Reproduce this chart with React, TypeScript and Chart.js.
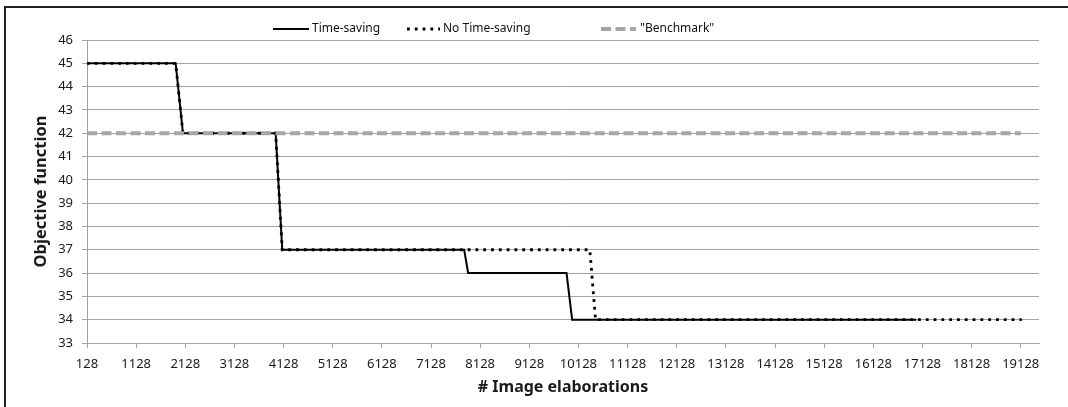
import { useEffect, useRef } from "react";
import { Chart, registerables } from "chart.js";

Chart.register(...registerables);

// ---- data ----
const xTickValues = [
  128, 1128, 2128, 3128, 4128, 5128, 6128, 7128, 8128, 9128, 10128, 11128,
  12128, 13128, 14128, 15128, 16128, 17128, 18128, 19128,
];
const yTickMin = 33;
const yTickMax = 46;
const xAxisMax = 19500;

const timeSavingX = [128, 1932, 2081, 3967, 4101, 7803, 7884, 9886, 10000, 17005];
const timeSavingY = [45, 45, 42, 42, 37, 37, 36, 36, 34, 34];

const noTimeSavingX = [128, 1932, 2081, 3967, 4101, 10360, 10476, 19150];
const noTimeSavingY = [45, 45, 42, 42, 37, 37, 34, 34];

const benchmarkX = [128, 19128];
const benchmarkY = [42, 42];

const seriesLabels = ["Time-saving", "No Time-saving", '"Benchmark"'];
const xTitle = "# Image elaborations";
const yTitle = "Objective function";

const FONT = "'Noto Sans', 'DejaVu Sans', sans-serif";
const GRID = "#a3a3a3";

// legend layout (page pixels)
const legendY = 29;
const legendItems = [
  { lineX0: 273, lineX1: 309, textX: 312 },
  { lineX0: 407, lineX1: 440, textX: 443 },
  { lineX0: 601, lineX1: 636, textX: 640 },
];

const toPoints = (xs: number[], ys: number[]) => xs.map((x, i) => ({ x, y: ys[i] }));

const legendPlugin = {
  id: "customLegend",
  afterDraw(chart: any) {
    const ctx = chart.ctx as CanvasRenderingContext2D;
    [0, 1, 2].forEach((di, i) => {
      const ds = chart.data.datasets[di];
      const it = legendItems[i];
      ctx.save();
      ctx.strokeStyle = ds.borderColor;
      ctx.lineWidth = ds.borderWidth;
      ctx.setLineDash(ds.borderDash || []);
      ctx.beginPath();
      ctx.moveTo(it.lineX0, legendY);
      ctx.lineTo(it.lineX1, legendY);
      ctx.stroke();
      ctx.setLineDash([]);
      ctx.fillStyle = "#111";
      ctx.font = `12px ${FONT}`;
      ctx.textBaseline = "middle";
      ctx.textAlign = "left";
      ctx.fillText(ds.label, it.textX, legendY);
      ctx.restore();
    });
  },
};

export default function App() {
  const ref = useRef<HTMLCanvasElement | null>(null);

  useEffect(() => {
    if (!ref.current) return;
    const chart = new Chart(ref.current, {
      type: "line",
      data: {
        datasets: [
          {
            label: seriesLabels[0],
            data: toPoints(timeSavingX, timeSavingY),
            borderColor: "#000",
            borderWidth: 2,
            pointRadius: 0,
            tension: 0,
            order: 3,
          },
          {
            label: seriesLabels[1],
            data: toPoints(noTimeSavingX, noTimeSavingY),
            borderColor: "#000",
            borderWidth: 2.8,
            borderDash: [2.8, 5],
            pointRadius: 0,
            tension: 0,
            order: 2,
          },
          {
            label: seriesLabels[2],
            data: toPoints(benchmarkX, benchmarkY),
            borderColor: "#a6a6a6",
            borderWidth: 4,
            borderDash: [10, 4.5],
            pointRadius: 0,
            tension: 0,
            order: 1,
          },
        ] as any,
      },
      options: {
        responsive: false,
        animation: false,
        layout: { padding: { left: 20, top: 40, right: 29, bottom: 0 } },
        plugins: {
          legend: { display: false },
          tooltip: { enabled: false },
        },
        scales: {
          x: {
            type: "linear",
            min: xTickValues[0],
            max: xAxisMax,
            afterBuildTicks: (scale: any) => {
              scale.ticks = xTickValues.map((v) => ({ value: v }));
            },
            afterFit: (scale: any) => {
              scale.height = 64;
            },
            grid: { drawOnChartArea: false, drawTicks: true, tickLength: 5, color: GRID },
            border: { display: true, color: GRID },
            ticks: {
              autoSkip: false,
              maxRotation: 0,
              padding: 8,
              color: "#1a1a1a",
              font: { family: FONT, size: 13 },
              callback: (v: any) => String(v),
            },
            title: {
              display: true,
              text: xTitle,
              color: "#1a1a1a",
              font: { family: FONT, size: 16, weight: "bold" },
              padding: { top: 0, bottom: 10 },
            },
          },
          y: {
            min: yTickMin,
            max: yTickMax,
            afterFit: (scale: any) => {
              scale.width = 67;
            },
            grid: { color: GRID, tickLength: 5 },
            border: { display: true, color: GRID },
            ticks: {
              stepSize: 1,
              padding: 9,
              color: "#1a1a1a",
              font: { family: FONT, size: 13 },
            },
            title: {
              display: true,
              text: yTitle,
              color: "#1a1a1a",
              font: { family: FONT, size: 16.5, weight: "bold" },
              padding: { top: 11, bottom: 0 },
            },
          },
        },
      } as any,
      plugins: [legendPlugin],
    });
    return () => chart.destroy();
  }, []);

  return (
    <div
      style={{
        position: "fixed",
        left: 0,
        top: 0,
        width: 1068,
        height: 407,
        overflow: "hidden",
        background: "#fff",
      }}
    >
      <canvas ref={ref} width={1068} height={407} style={{ position: "absolute", left: 0, top: 0 }} />
      <div
        style={{
          position: "absolute",
          left: 4,
          top: 6,
          width: 1200,
          height: 600,
          borderLeft: "2px solid #222",
          borderTop: "2px solid #222",
          pointerEvents: "none",
        }}
      />
    </div>
  );
}
